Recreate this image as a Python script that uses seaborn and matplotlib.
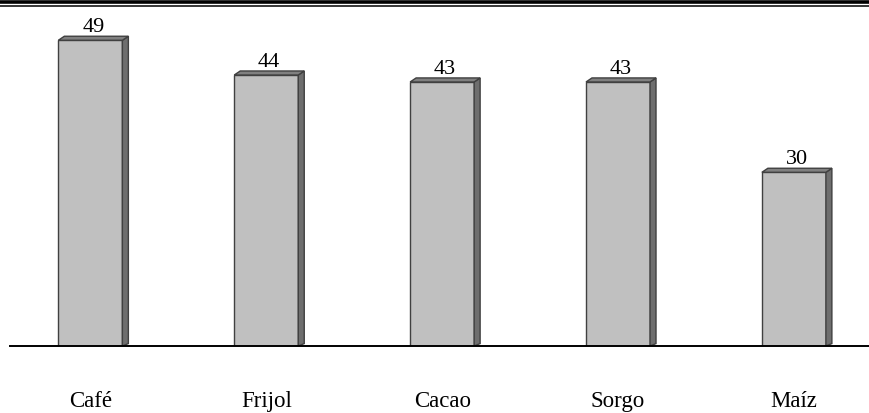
import matplotlib
matplotlib.use("Agg")
import matplotlib.pyplot as plt
from matplotlib.patches import Polygon
from matplotlib.lines import Line2D
import seaborn as sns
import pandas as pd

cultivos = ["Café", "Frijol", "Cacao", "Sorgo", "Maíz"]
valores = [49, 44, 43, 43, 30]

sns.set_theme(style="white")
plt.rcParams["font.family"] = ["Liberation Serif", "DejaVu Serif"]

df = pd.DataFrame({"cultivo": cultivos, "valor": valores})

fig = plt.figure(figsize=(8.69, 4.14), dpi=100)
ax = fig.add_axes([10 / 869, 67 / 414, 859 / 869, 0.814])

sns.barplot(data=df, x="cultivo", y="valor", ax=ax, color="#c0c0c0",
            saturation=1, width=0.364, edgecolor="#404040", linewidth=1)

ymin, ymax = 5, 53.5
ax.set_ylim(ymin, ymax)
ax.set_xlim(-0.457, 4.427)

# pseudo 3D: side and top faces
dx, dy = 0.034, 0.58
for bar, v in zip(ax.patches, valores):
    x0 = bar.get_x()
    x1 = x0 + bar.get_width()
    side = Polygon([(x1, ymin), (x1 + dx, ymin + dy * 0.6), (x1 + dx, v + dy), (x1, v)],
                   closed=True, facecolor="#6e6e6e", edgecolor="#404040", lw=1)
    top = Polygon([(x0, v), (x0 + dx, v + dy), (x1 + dx, v + dy), (x1, v)],
                  closed=True, facecolor="#808080", edgecolor="#404040", lw=1)
    ax.add_patch(side)
    ax.add_patch(top)
    ax.annotate(f"{v}", (bar.get_x() + bar.get_width() / 2 + dx / 2, v + dy),
                xytext=(0, 0), textcoords="offset points", ha="center", va="bottom",
                fontsize=16, color="black")

ax.set_xlabel("")
ax.set_ylabel("")
ax.set_yticks([])
ax.tick_params(axis="x", length=0, pad=32, labelsize=16.5, labelcolor="black")
for s in ["top", "left", "right"]:
    ax.spines[s].set_visible(False)
ax.spines["bottom"].set_color("black")
ax.spines["bottom"].set_linewidth(1.4)

# double rule at the top
fig.add_artist(Line2D([0, 1], [1 - 2.5 / 414, 1 - 2.5 / 414], color="black", lw=2.6))
fig.add_artist(Line2D([0, 1], [1 - 7 / 414, 1 - 7 / 414], color="black", lw=1.1))

fig.savefig("out.png", dpi=100)
